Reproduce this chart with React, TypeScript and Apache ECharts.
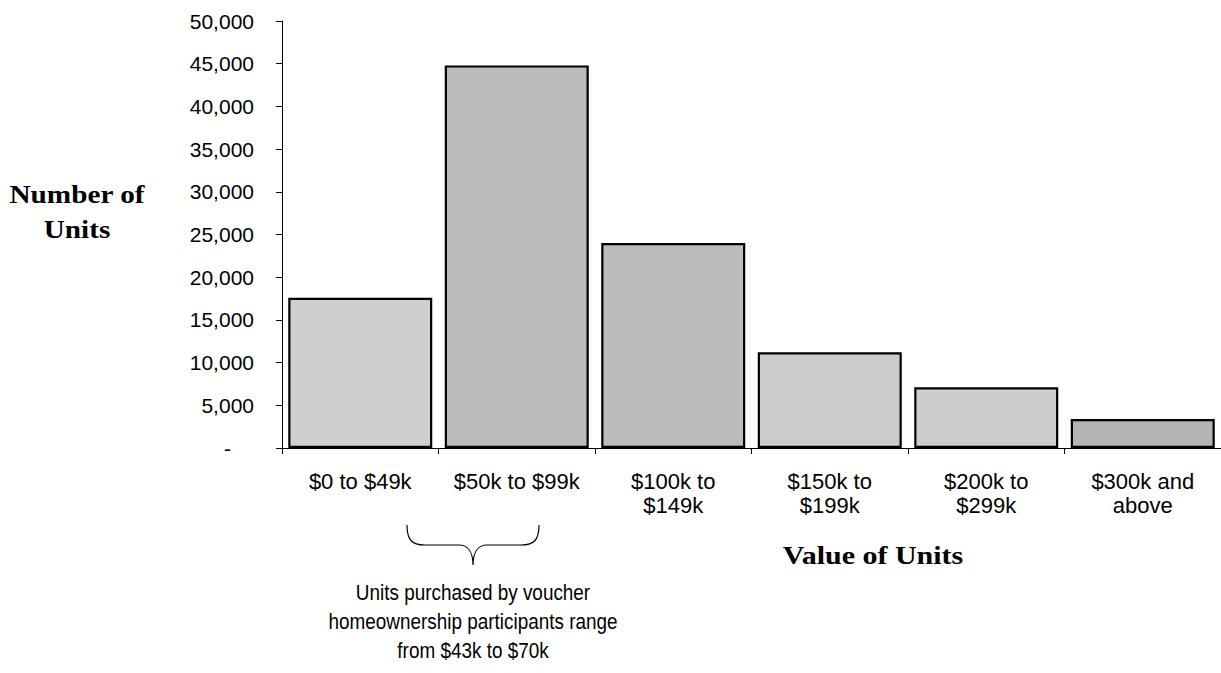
import React, { useEffect, useRef } from "react";
import * as echarts from "echarts";

const categories = ["$0 to $49k", "$50k to $99k", "$100k to\n$149k", "$150k to\n$199k", "$200k to\n$299k", "$300k and\nabove"];
const values = [17600, 44800, 24000, 11200, 7100, 3400];
const barColors = ["#cfcfcf", "#bbbbbb", "#bcbcbc", "#cbcbcb", "#cdcdcd", "#b5b5b5"];
const yTitle = "Number of\nUnits";
const xTitle = "Value of Units";
const note = "Units purchased by voucher\nhomeownership participants range\nfrom $43k to $70k";

echarts.graphic.registerShape(
  "brace",
  echarts.graphic.extendPath(
    "M0 0 C0 14 4 20 18 20 L52 20 C60 20 66 26 66 40 C66 26 72 20 80 20 L114 20 C128 20 132 14 132 0",
    {}
  )
);

export default function App() {
  const ref = useRef<HTMLDivElement>(null);
  useEffect(() => {
    const chart = echarts.init(ref.current!, null, { renderer: "svg" });
    chart.setOption({
      animation: false,
      backgroundColor: "#ffffff",
      grid: { left: 282, top: 21, width: 950, height: 427, containLabel: false },
      xAxis: {
        type: "category",
        data: categories,
        axisLine: { lineStyle: { color: "#000", width: 1 } },
        axisTick: { show: true, length: 6, lineStyle: { color: "#000" } },
        axisLabel: {
          color: "#000",
          fontFamily: "Arial, 'Liberation Sans', sans-serif",
          fontSize: 22,
          lineHeight: 24,
          margin: 21,
          interval: 0,
        },
      },
      yAxis: {
        type: "value",
        min: 0,
        max: 50000,
        interval: 5000,
        splitLine: { show: false },
        axisLine: { show: true, lineStyle: { color: "#000", width: 1 } },
        axisTick: { show: true, length: 6, lineStyle: { color: "#000" } },
        axisLabel: {
          color: "#000",
          fontFamily: "Arial, 'Liberation Sans', sans-serif",
          fontSize: 21,
          margin: 28,
          formatter: (v: number) => (v === 0 ? "{d|-}" : v.toLocaleString("en-US")),
          rich: {
            d: {
              fontSize: 21,
              fontFamily: "Arial, 'Liberation Sans', sans-serif",
              color: "#000",
              padding: [0, 23, 0, 0],
            },
          },
        },
      },
      series: [
        {
          type: "bar",
          data: values.map((v, i) => ({
            value: v,
            itemStyle: { color: barColors[i] },
          })),
          barWidth: 144,
          itemStyle: { borderColor: "#000", borderWidth: 2.2 },
        },
      ],
      graphic: [
        {
          type: "text",
          x: 77,
          y: 212,
          scaleX: 1.17,
          style: {
            text: yTitle,
            textAlign: "center",
            textVerticalAlign: "middle",
            font: "bold 25px 'Times New Roman', 'Liberation Serif', serif",
            lineHeight: 35,
            fill: "#000",
          },
        },
        {
          type: "text",
          x: 873,
          y: 555,
          scaleX: 1.2,
          style: {
            text: xTitle,
            textAlign: "center",
            textVerticalAlign: "middle",
            font: "bold 25px 'Times New Roman', 'Liberation Serif', serif",
            fill: "#000",
          },
        },
        {
          type: "brace",
          x: 407,
          y: 525,
          shape: {},
          style: { stroke: "#000", lineWidth: 1.2, fill: "none" },
        },
        {
          type: "text",
          x: 473,
          y: 621,
          scaleX: 0.86,
          style: {
            text: note,
            textAlign: "center",
            textVerticalAlign: "middle",
            font: "22px 'Liberation Sans', Arial, sans-serif",
            lineHeight: 29,
            fill: "#000",
          },
        },
      ],
    });
    return () => chart.dispose();
  }, []);
  return (
    <div
      ref={ref}
      style={{ position: "fixed", left: 0, top: 0, width: 1221, height: 673 }}
    />
  );
}
